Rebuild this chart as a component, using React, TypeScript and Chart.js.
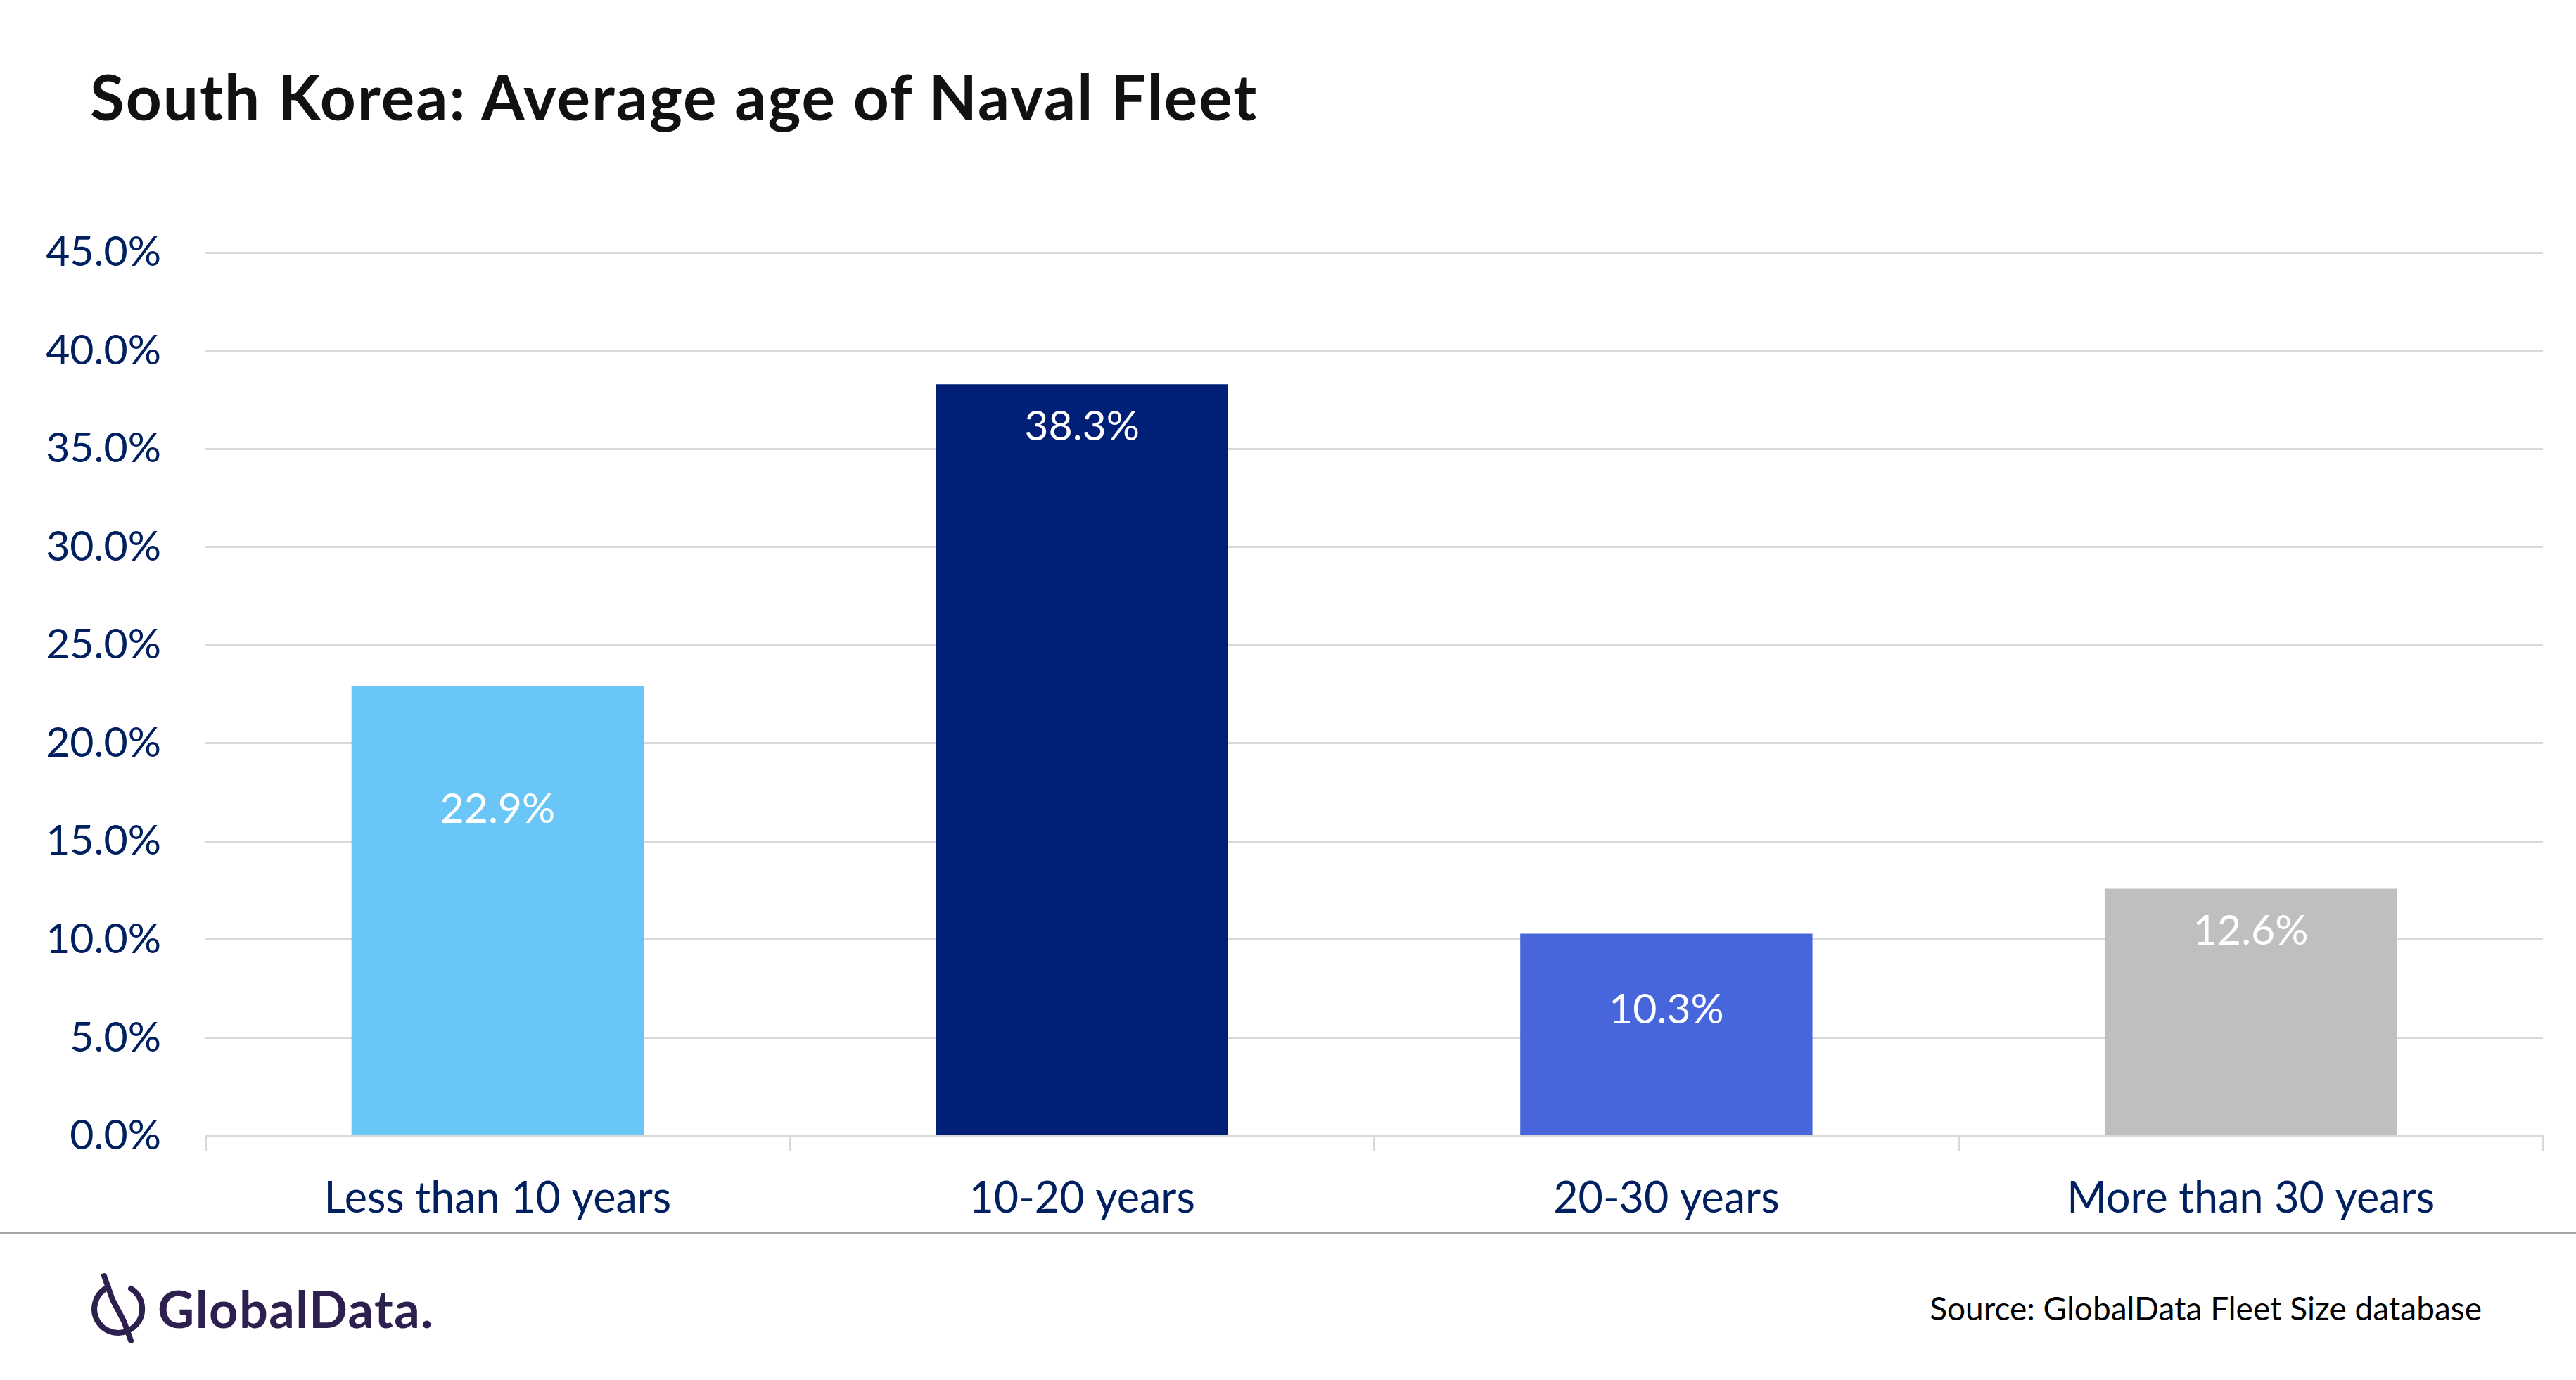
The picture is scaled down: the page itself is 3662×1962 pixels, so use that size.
import { useEffect, useRef } from 'react';
import Chart from 'chart.js/auto';

const categories = ['Less than 10 years', '10-20 years', '20-30 years', 'More than 30 years'];
const fleetShare = [22.9, 38.3, 10.3, 12.6];
const barColors = ['#69C6F7', '#001F77', '#4866DC', '#BFBFBF'];
// distance of each value label below the top of its bar, px
const labelDrops = [175, 61, 108, 61];

const FONT = 'Lato, "Open Sans", sans-serif';
const NAVY = '#002060';
const GRID = '#D9D9D9';

const valueLabels = {
    id: 'valueLabels',
    afterDatasetsDraw(chart: Chart) {
        const ctx = chart.ctx;
        const meta = chart.getDatasetMeta(0);
        ctx.save();
        ctx.fillStyle = '#FFFFFF';
        ctx.font = `59px ${FONT}`;
        ctx.textAlign = 'center';
        ctx.textBaseline = 'middle';
        meta.data.forEach((bar: any, i: number) => {
            ctx.fillText(fleetShare[i].toFixed(1) + '%', bar.x, bar.y + labelDrops[i]);
        });
        ctx.restore();
    }
};

const FleetChart = () => {
    const canvasRef = useRef<HTMLCanvasElement>(null);

    useEffect(() => {
        if (!canvasRef.current) return;
        const chart = new Chart(canvasRef.current, {
            type: 'bar',
            data: {
                labels: categories,
                datasets: [{
                    data: fleetShare,
                    backgroundColor: barColors,
                    barPercentage: 0.5,
                    categoryPercentage: 1.0
                }]
            },
            options: {
                animation: false,
                responsive: true,
                maintainAspectRatio: false,
                devicePixelRatio: 1,
                layout: { padding: { top: 60, right: 47, left: 0, bottom: 0 } },
                plugins: {
                    legend: { display: false },
                    tooltip: { enabled: false }
                },
                scales: {
                    x: {
                        grid: { offset: true, drawOnChartArea: false, drawTicks: true, tickLength: 22, color: GRID, lineWidth: 3 },
                        border: { display: true, color: GRID, width: 3 },
                        ticks: { color: NAVY, font: { family: FONT, size: 61 }, padding: 31, maxRotation: 0 },
                        afterFit: (s: any) => { s.height = 125; }
                    },
                    y: {
                        min: 0,
                        max: 45,
                        grid: { color: GRID, lineWidth: 3, drawTicks: false },
                        border: { display: false },
                        ticks: {
                            stepSize: 5,
                            color: NAVY,
                            font: { family: FONT, size: 59 },
                            padding: 63,
                            callback: (v: any) => Number(v).toFixed(1) + '%'
                        },
                        afterFit: (s: any) => { s.width = 292; }
                    }
                }
            },
            plugins: [valueLabels]
        });
        return () => {
            chart.destroy();
        };
    }, []);

    return <canvas ref={canvasRef} />;
};

const Logo = () => (
    <div style={{ position: 'absolute', left: 124, top: 1808, display: 'flex', alignItems: 'center' }}>
        <svg width="90" height="104" viewBox="0 0 90 104">
            <path d="M30 22 A34 34 0 1 0 62 24" fill="none" stroke="#2D1F4E" strokeWidth="8" strokeLinecap="round" />
            <path d="M24 6 L36 40 L52 70 L62 98" fill="none" stroke="#2D1F4E" strokeWidth="8" strokeLinecap="round" />
        </svg>
        <span style={{ fontFamily: FONT, fontWeight: 700, fontSize: 72, color: '#2D1F4E', marginLeft: 10, letterSpacing: 1.5, lineHeight: 1 }}>
            GlobalData.
        </span>
    </div>
);

export default function App() {
    return (
        <div style={{ position: 'fixed', left: 0, top: 0, width: 3662, height: 1962, background: '#FFFFFF', overflow: 'hidden' }}>
            <div style={{ position: 'absolute', left: 128, top: 92, fontFamily: FONT, fontWeight: 700, fontSize: 89, letterSpacing: 2, lineHeight: 1, color: '#111111', whiteSpace: 'nowrap' }}>
                South Korea: Average age of Naval Fleet
            </div>
            <div style={{ position: 'absolute', left: 0, top: 261, width: 3662, height: 1479 }}>
                <FleetChart />
            </div>
            <div style={{ position: 'absolute', left: 0, top: 1752, width: 3662, height: 3, background: '#A6A6A6' }} />
            <Logo />
            <div style={{ position: 'absolute', right: 134, top: 1837, fontFamily: FONT, fontSize: 46, lineHeight: 1, color: '#000000', whiteSpace: 'nowrap' }}>
                Source: GlobalData Fleet Size database
            </div>
        </div>
    );
}
